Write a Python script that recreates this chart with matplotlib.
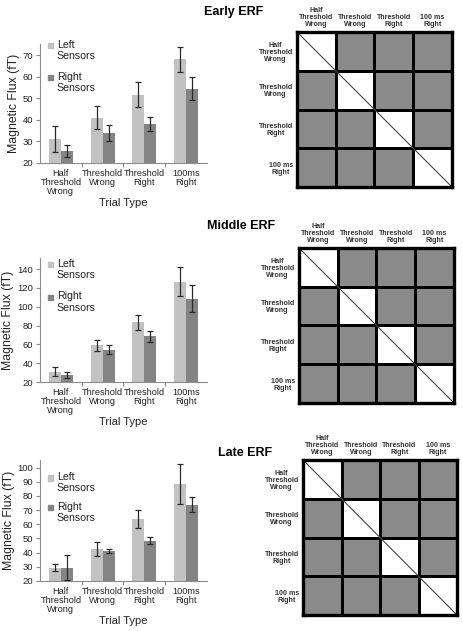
import numpy as np
import matplotlib
matplotlib.use("Agg")
import matplotlib.pyplot as plt
from matplotlib.colors import ListedColormap
from matplotlib.patches import Rectangle

plt.rcParams['font.family'] = ['Liberation Sans', 'DejaVu Sans']

categories = ["Half\nThreshold\nWrong", "Threshold\nWrong", "Threshold\nRight", "100ms\nRight"]
matrix_labels = ["Half\nThreshold\nWrong", "Threshold\nWrong", "Threshold\nRight", "100 ms\nRight"]
series_names = ["Left\nSensors", "Right\nSensors"]
panel_titles = ["Early ERF", "Middle ERF", "Late ERF"]

early_left = [31, 41, 51.5, 68]
early_left_err = [6, 5.4, 5.8, 5.8]
early_right = [25.7, 33.8, 38, 54.3]
early_right_err = [2.7, 3.7, 3.4, 5.3]

middle_left = [31, 59, 83.5, 126.5]
middle_left_err = [4.5, 6, 7.8, 15.5]
middle_right = [27.5, 54.5, 68.5, 108.5]
middle_right_err = [2.8, 5, 6, 14.5]

late_left = [29.5, 42.5, 64, 88.5]
late_left_err = [2.4, 4.8, 6.4, 14]
late_right = [29.5, 41, 48.5, 73.8]
late_right_err = [8.5, 1.5, 2.6, 5.4]

# significance matrices (1 = significant difference, 0 = same condition)
early_sig = [[0, 1, 1, 1], [1, 0, 1, 1], [1, 1, 0, 1], [1, 1, 1, 0]]
middle_sig = [[0, 1, 1, 1], [1, 0, 1, 1], [1, 1, 0, 1], [1, 1, 1, 0]]
late_sig = [[0, 1, 1, 1], [1, 0, 1, 1], [1, 1, 0, 1], [1, 1, 1, 0]]

W, H = 464, 631
fig = plt.figure(figsize=(W / 100, H / 100), dpi=100)

def px_axes(x0, y0, x1, y1):
    return fig.add_axes([x0 / W, 1 - y1 / H, (x1 - x0) / W, (y1 - y0) / H])

LIGHT = '#c2c2c2'
DARK = '#848484'
AXC = '#8c8c8c'

bar_specs = [
    ((40, 44, 207, 163), early_left, early_left_err, early_right, early_right_err,
     (20, 75.1), np.arange(20, 71, 10), (0.99, 0.72)),
    ((40, 258, 207, 382), middle_left, middle_left_err, middle_right, middle_right_err,
     (20, 151.7), np.arange(20, 141, 20), (0.95, 0.685)),
    ((40, 460, 207, 581), late_left, late_left_err, late_right, late_right_err,
     (20, 105.4), np.arange(20, 101, 10), (0.855, 0.612)),
]

bw = 0.29
x = np.arange(len(categories))
for (box, L, Le, R, Re, ylim, yt, legy) in bar_specs:
    ax = px_axes(*box)
    ax.bar(x - bw / 2, L, bw, color=LIGHT, zorder=2)
    ax.bar(x + bw / 2, R, bw, color=DARK, zorder=2)
    ax.errorbar(x - bw / 2, L, yerr=Le, fmt='none', ecolor='#2a2a2a', elinewidth=0.9,
                capsize=2.5, capthick=0.9, zorder=3)
    ax.errorbar(x + bw / 2, R, yerr=Re, fmt='none', ecolor='#2a2a2a', elinewidth=0.9,
                capsize=2.5, capthick=0.9, zorder=3)
    ax.set_xlim(-0.5, 3.5)
    ax.set_ylim(*ylim)
    ax.set_yticks(yt)
    ax.tick_params(axis='y', labelsize=6.8, length=3, color=AXC, width=0.8, pad=2, labelcolor='#222')
    ax.set_xticks(x)
    ax.set_xticklabels(categories, fontsize=6.6, linespacing=1.05, color='#222')
    ax.tick_params(axis='x', length=0, pad=4)
    ax.set_xticks([0.5, 1.5, 2.5], minor=True)
    ax.tick_params(axis='x', which='minor', length=3, color=AXC, width=0.8)
    for s in ['top', 'right']:
        ax.spines[s].set_visible(False)
    for s in ['left', 'bottom']:
        ax.spines[s].set_color(AXC)
        ax.spines[s].set_linewidth(0.8)
    ax.set_xlabel("Trial Type", fontsize=8, labelpad=1, color='#222')
    ax.set_ylabel("Magnetic Flux (fT)", fontsize=8.8, labelpad=2, color='#222')
    # legend
    for name, col, yy in zip(series_names, [LIGHT, DARK], legy):
        ax.add_patch(Rectangle((0.048, yy - 0.025), 0.03, 0.045, transform=ax.transAxes,
                               color=col, clip_on=False))
        ax.text(0.1, yy + 0.045, name, transform=ax.transAxes, fontsize=7.6, va='top',
                ha='left', linespacing=1.15, color='#222')

title_pos = [(234, 12), (241, 226), (245, 453)]
for t, (tx, ty) in zip(panel_titles, title_pos):
    fig.text(tx / W, 1 - ty / H, t, fontsize=9, fontweight='bold', ha='center', va='center')

mat_boxes = [(297, 32, 452, 187), (299, 248, 454, 403), (303, 460, 457, 615)]
cmap = ListedColormap(['white', '#8a8a8a'])
for box, M in zip(mat_boxes, [early_sig, middle_sig, late_sig]):
    ax = px_axes(*box)
    ax.pcolormesh(np.array(M), cmap=cmap, vmin=0, vmax=1, edgecolors='black', linewidth=1.9)
    ax.plot([0, 4], [0, 4], color='#444', lw=0.8)
    ax.set_xlim(0, 4)
    ax.set_ylim(4, 0)
    ax.xaxis.tick_top()
    ax.set_xticks(np.arange(4) + 0.5)
    ax.set_xticklabels(matrix_labels, fontsize=5.1, fontweight='bold', linespacing=1.0,
                       color='#333')
    ax.set_yticks(np.arange(4) + 0.5)
    ax.set_yticklabels(matrix_labels, fontsize=5.1, fontweight='bold', linespacing=1.0,
                       multialignment='center', color='#333')
    ax.tick_params(length=0, pad=3)
    for s in ax.spines.values():
        s.set_linewidth(2.4)
        s.set_color('black')

fig.savefig("out.png", dpi=100)
